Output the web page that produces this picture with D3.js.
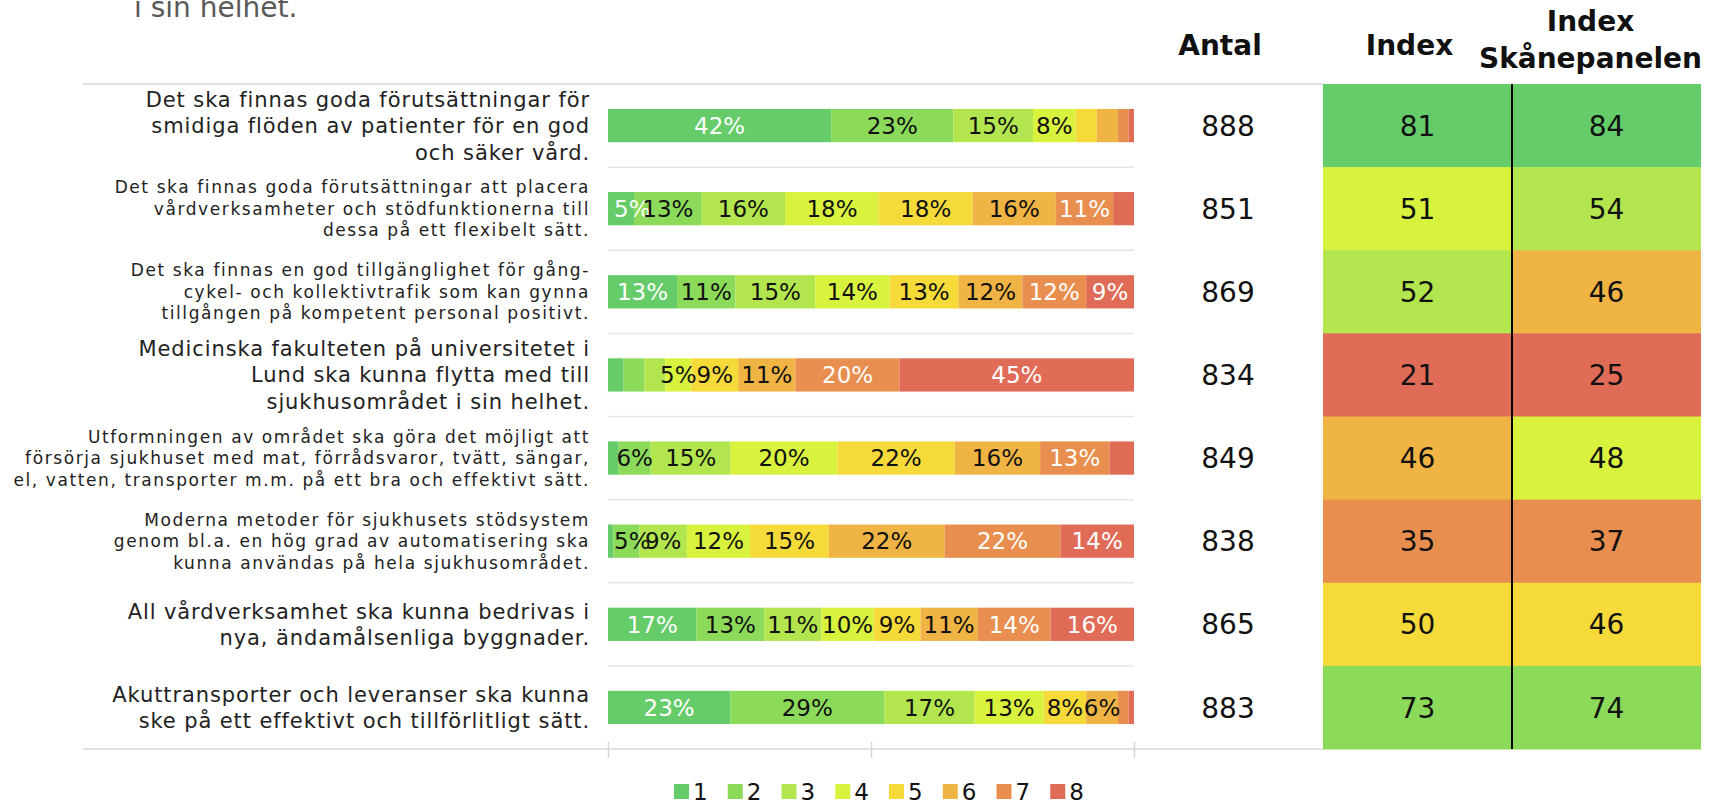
<!DOCTYPE html>
<html>
<head>
<meta charset="utf-8">
<script src="https://cdn.jsdelivr.net/npm/d3@7"></script>
<style>
  body { margin: 0; background: #fff; }
  svg { display: block; font-family: "DejaVu Sans", sans-serif; }
</style>
</head>
<body>
<div id="chart"></div>
<script>
// ---------- Data ----------
const questions = [
    ["Det ska finnas goda förutsättningar för", "smidiga flöden av patienter för en god", "och säker vård."],
    ["Det ska finnas goda förutsättningar att placera", "vårdverksamheter och stödfunktionerna till", "dessa på ett flexibelt sätt."],
    ["Det ska finnas en god tillgänglighet för gång-", "cykel- och kollektivtrafik som kan gynna", "tillgången på kompetent personal positivt."],
    ["Medicinska fakulteten på universitetet i", "Lund ska kunna flytta med till", "sjukhusområdet i sin helhet."],
    ["Utformningen av området ska göra det möjligt att", "försörja sjukhuset med mat, förrådsvaror, tvätt, sängar,", "el, vatten, transporter m.m. på ett bra och effektivt sätt."],
    ["Moderna metoder för sjukhusets stödsystem", "genom bl.a. en hög grad av automatisering ska", "kunna användas på hela sjukhusområdet."],
    ["All vårdverksamhet ska kunna bedrivas i", "nya, ändamålsenliga byggnader."],
    ["Akuttransporter och leveranser ska kunna", "ske på ett effektivt och tillförlitligt sätt."]
];

const levels = ["1", "2", "3", "4", "5", "6", "7", "8"];

// share (%) per answer level 1..8, one row per question
const shares = [
    [42, 23, 15, 8, 4, 4, 2, 1],
    [5, 13, 16, 18, 18, 16, 11, 4],
    [13, 11, 15, 14, 13, 12, 12, 9],
    [3, 4, 4, 5, 9, 11, 20, 45],
    [2, 6, 15, 20, 22, 16, 13, 4.6],
    [1, 5, 9, 12, 15, 22, 22, 14],
    [17, 13, 11, 10, 9, 11, 14, 16],
    [23, 29, 17, 13, 8, 6, 2, 1]
];

const antal = [888, 851, 869, 834, 849, 838, 865, 883];
const indexValues = [81, 51, 52, 21, 46, 35, 50, 73];
const panelValues = [84, 54, 45.7, 25, 48, 37, 46.2, 74];

const tableColumns = ["Index", "Skånepanelen"];
const introTail = "i sin helhet.";

// ---------- Dimensions ----------
const W = 1735, H = 805;
const topY = 84, bottomY = 749;
const barLeft = 608, barRight = 1134;
const labelRight = 590;
const ruleLeft = 83;
const heatLeft = 1323, heatRight = 1701;
const antalX = 1228;

const svg = d3.select("#chart").append("svg")
    .attr("width", W)
    .attr("height", H);

// ---------- Scales ----------
const rows = d3.range(questions.length);

const y = d3.scaleBand().domain(rows).range([topY, bottomY]).padding(0);
const yBar = d3.scaleBand().domain(rows).range([topY, bottomY])
    .paddingInner(0.6).paddingOuter(0.3);

const x = d3.scaleLinear().domain([0, 1]).range([barLeft, barRight]);

const color = d3.scaleOrdinal()
    .domain(levels)
    .range(["#65cc69", "#8bda5a", "#b3e64e", "#d9f23e", "#f6da3a", "#f0b444", "#e88e4e", "#e06c57"]);

const whiteText = new Set(["1", "7", "8"]);

const hx = d3.scaleBand().domain(tableColumns).range([heatLeft, heatRight]);

// ---------- Intro text fragment ----------
svg.append("text")
    .attr("x", 134)
    .attr("y", 17)
    .attr("fill", "#595959")
    .style("font-size", "28px")
    .text(introTail);

// ---------- Headers ----------
const header = svg.append("g")
    .attr("fill", "#111")
    .style("font-size", "28px")
    .style("font-weight", "bold")
    .attr("text-anchor", "middle");

header.append("text").attr("x", 1220).attr("y", 55).text("Antal");
header.append("text").attr("x", hx("Index") + hx.bandwidth() / 2 - 8).attr("y", 55).text("Index");
header.append("text").attr("x", hx("Skånepanelen") + hx.bandwidth() / 2 - 16).attr("y", 31).text("Index");
header.append("text").attr("x", hx("Skånepanelen") + hx.bandwidth() / 2 - 16).attr("y", 68).text("Skånepanelen");

// ---------- Rules ----------
svg.append("line")
    .attr("x1", ruleLeft).attr("x2", heatLeft)
    .attr("y1", topY).attr("y2", topY)
    .attr("stroke", "#e2e2e2").attr("stroke-width", 2);

svg.append("line")
    .attr("x1", ruleLeft).attr("x2", heatLeft)
    .attr("y1", bottomY).attr("y2", bottomY)
    .attr("stroke", "#e2e2e2").attr("stroke-width", 2);

svg.append("g")
    .selectAll("line")
    .data(rows.slice(1))
    .join("line")
    .attr("x1", barLeft).attr("x2", barRight)
    .attr("y1", d => y(d)).attr("y2", d => y(d))
    .attr("stroke", "#e6e6e6").attr("stroke-width", 1.5);

// ticks under the bars
const axis = svg.append("g")
    .attr("transform", `translate(0,${bottomY})`)
    .call(d3.axisBottom(x).tickValues([0, 0.5, 1]).tickFormat("").tickSize(9));
axis.select(".domain").remove();
axis.selectAll(".tick line")
    .attr("y1", -7)
    .attr("stroke", "#d6d6d6")
    .attr("stroke-width", 1.5);

// ---------- Question labels ----------
const labels = svg.append("g")
    .attr("fill", "#222")
    .attr("text-anchor", "end");

questions.forEach((lines, i) => {
    const t = labels.append("text").style("font-size", "21px");
    lines.forEach(line => t.append("tspan").text(line));
    // shrink long labels like the original text boxes
    let longest = 0;
    t.selectAll("tspan").each(function () {
        longest = Math.max(longest, this.getComputedTextLength());
    });
    const small = longest > 460;
    const size = small ? 17 : 21;
    const lh = small ? 21.5 : 26.5;
    t.style("font-size", size + "px")
        .style("letter-spacing", small ? "1.6px" : "0.9px");
    const cy = y(i) + y.bandwidth() / 2;
    const first = cy - (lines.length - 1) / 2 * lh + size * 0.36;
    t.selectAll("tspan")
        .attr("x", labelRight)
        .attr("y", (d, j) => first + j * lh);
});

// ---------- Stacked bars ----------
const table = shares.map(r => Object.fromEntries(levels.map((k, j) => [k, r[j]])));
const stacked = d3.stack().keys(levels).offset(d3.stackOffsetExpand)(table);

const layers = svg.append("g")
    .selectAll("g")
    .data(stacked)
    .join("g")
    .attr("fill", d => color(d.key));

layers.selectAll("rect")
    .data(d => d.map((s, i) => ({ s, i })))
    .join("rect")
    .attr("x", d => x(d.s[0]))
    .attr("width", d => x(d.s[1]) - x(d.s[0]))
    .attr("y", d => yBar(d.i))
    .attr("height", yBar.bandwidth());

const segLabels = svg.append("g")
    .attr("text-anchor", "middle")
    .style("font-size", "23px");

stacked.forEach(layer => {
    layer.forEach((s, i) => {
        const v = shares[i][levels.indexOf(layer.key)];
        if (v < 5) return;
        const t = segLabels.append("text")
            .attr("y", yBar(i) + yBar.bandwidth() / 2)
            .attr("dy", "0.36em")
            .attr("fill", whiteText.has(layer.key) ? "#fff" : "#111")
            .text(Math.round(v) + "%");
        // keep labels inside the bar
        const half = t.node().getComputedTextLength() / 2;
        const cx = Math.max((x(s[0]) + x(s[1])) / 2, barLeft + 6 + half);
        t.attr("x", cx);
    });
});

// ---------- Antal ----------
svg.append("g")
    .attr("text-anchor", "middle")
    .style("font-size", "28px")
    .attr("fill", "#111")
    .selectAll("text")
    .data(antal)
    .join("text")
    .attr("x", antalX)
    .attr("y", (d, i) => y(i) + y.bandwidth() / 2)
    .attr("dy", "0.36em")
    .text(d => d);

// ---------- Index heatmap (coloured by rank within column) ----------
function rankLevels(values) {
    const order = d3.range(values.length).sort((a, b) => d3.descending(values[a], values[b]));
    const out = [];
    order.forEach((row, r) => { out[row] = levels[r]; });
    return out;
}

const columns = [
    { key: "Index", values: indexValues },
    { key: "Skånepanelen", values: panelValues }
];

columns.forEach(col => {
    const lv = rankLevels(col.values);
    const g = svg.append("g");
    g.selectAll("rect")
        .data(col.values)
        .join("rect")
        .attr("x", hx(col.key))
        .attr("width", hx.bandwidth())
        .attr("y", (d, i) => y(i))
        .attr("height", y.bandwidth() + 0.5)
        .attr("fill", (d, i) => color(lv[i]));
    g.selectAll("text")
        .data(col.values)
        .join("text")
        .attr("x", hx(col.key) + hx.bandwidth() / 2)
        .attr("y", (d, i) => y(i) + y.bandwidth() / 2)
        .attr("dy", "0.36em")
        .attr("text-anchor", "middle")
        .attr("fill", "#111")
        .style("font-size", "28px")
        .text(d => d3.format(".0f")(d));
});

svg.append("line")
    .attr("x1", hx("Skånepanelen")).attr("x2", hx("Skånepanelen"))
    .attr("y1", topY).attr("y2", bottomY)
    .attr("stroke", "#000").attr("stroke-width", 2);

// ---------- Legend ----------
const lx = d3.scaleBand().domain(levels).range([674, 1104]);
const legend = svg.append("g")
    .selectAll("g")
    .data(levels)
    .join("g")
    .attr("transform", d => `translate(${lx(d)},784)`);

legend.append("rect")
    .attr("width", 15).attr("height", 15)
    .attr("fill", d => color(d));

legend.append("text")
    .attr("x", 19)
    .attr("y", 8)
    .attr("dy", "0.36em")
    .attr("fill", "#111")
    .style("font-size", "23px")
    .text(d => d);
</script>
</body>
</html>
